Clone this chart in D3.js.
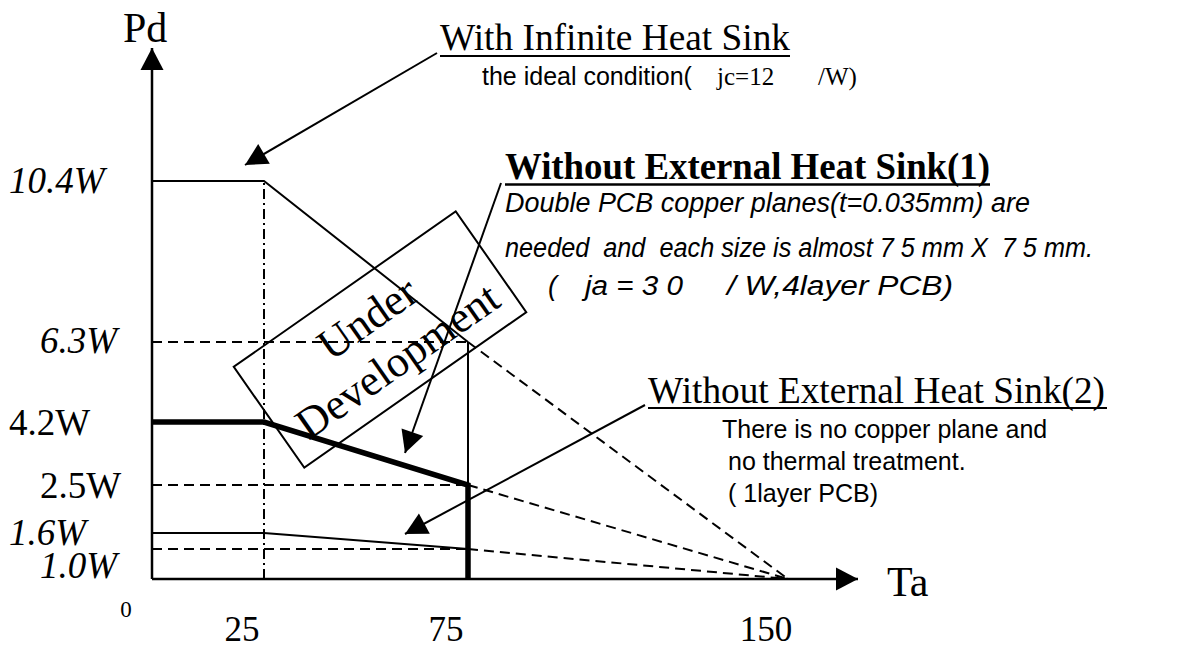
<!DOCTYPE html>
<html>
<head>
<meta charset="utf-8">
<script src="https://cdn.jsdelivr.net/npm/d3@7"></script>
<style>
  html, body { margin: 0; padding: 0; background: #fff; }
  svg { display: block; }
  text { fill: #000; white-space: pre; }
  .serif { font-family: "Liberation Serif", "Times New Roman", serif; }
  .sans  { font-family: "Liberation Sans", Arial, sans-serif; }
</style>
</head>
<body>
<svg id="chart" width="1182" height="649"></svg>
<script>
// Ambient temperature ticks (°C)
const tempTicks = [0, 25, 75, 150];
// Power dissipation levels (W) and their labels
const powerLevels = [1.0, 1.6, 2.5, 4.2, 6.3, 10.4];
const powerLabels = ["1.0W", "1.6W", "2.5W", "4.2W", "6.3W", "10.4W"];
const powerItalic = [true, true, false, false, true, true];

// Derating curves as [Ta, Pd]
const infiniteSink = [[0, 10.4], [25, 10.4], [75, 6.3]];
const noSink1 = [[0, 4.2], [25, 4.2], [75, 2.5], [75, 0]];
const noSink2 = [[0, 1.6], [25, 1.6], [75, 1.0]];
// Each curve extended down to zero power at Tj(max)
const extrapolations = [
  [[75, 6.3], [150, 0]],
  [[75, 2.5], [150, 0]],
  [[75, 1.0], [150, 0]]
];
// Dashed reference levels up to Ta = 75
const guideLevels = [6.3, 2.5, 1.0];

const svg = d3.select("#chart");

// The drawing is schematic, so both scales are piecewise linear
const x = d3.scaleLinear().domain(tempTicks).range([152, 264, 468, 788]);
const y = d3.scaleLinear().domain([0, ...powerLevels]).range([579, 549, 533, 485, 422, 342, 181]);
const line = d3.line().x(d => x(d[0])).y(d => y(d[1]));

// Arrow head marker
const defs = svg.append("defs");
defs.append("marker")
  .attr("id", "head")
  .attr("viewBox", "-24 -13 26 26")
  .attr("refX", 0).attr("refY", 0)
  .attr("markerUnits", "userSpaceOnUse")
  .attr("markerWidth", 26).attr("markerHeight", 26)
  .attr("orient", "auto")
  .append("path").attr("d", "M0,0 L-22,-11.5 L-22,11.5 Z").attr("fill", "#000");

const g = svg.append("g").attr("fill", "none").attr("stroke", "#000");

// Dashed reference levels
guideLevels.forEach(p => {
  g.append("path").attr("d", line([[0, p], [75, p]]))
    .attr("stroke-width", 2).attr("stroke-dasharray", "10,6");
});
// Dash-dot marker at Ta = 25
g.append("path").attr("d", line([[25, 0], [25, 10.4]]))
  .attr("stroke-width", 2).attr("stroke-dasharray", "10,4,2,4");
// Extrapolations to 150
extrapolations.forEach(seg => {
  g.append("path").attr("d", line(seg))
    .attr("stroke-width", 2).attr("stroke-dasharray", "10,6");
});
// Thin vertical at Ta = 75 under the infinite-sink corner
g.append("path").attr("d", line([[75, 6.3], [75, 0]])).attr("stroke-width", 2);

// Curves
g.append("path").attr("d", line(infiniteSink)).attr("stroke-width", 2);
g.append("path").attr("d", line(noSink2)).attr("stroke-width", 2);
g.append("path").attr("d", line(noSink1)).attr("stroke-width", 5.5)
  .attr("stroke-linejoin", "miter");

// Axes
g.append("line").attr("x1", x(0)).attr("y1", y(0)).attr("x2", x(0)).attr("y2", 48)
  .attr("stroke-width", 2.5).attr("marker-end", "url(#head)");
g.append("line").attr("x1", x(0)).attr("y1", y(0)).attr("x2", 858).attr("y2", y(0))
  .attr("stroke-width", 2.5).attr("marker-end", "url(#head)");

svg.append("text").attr("class", "serif").attr("x", 123).attr("y", 42)
  .attr("font-size", 42).text("Pd");
svg.append("text").attr("class", "serif").attr("x", 887).attr("y", 596)
  .attr("font-size", 42).text("Ta");

// Power labels on the left
const labelX = [40, 9, 40, 9, 40, 9];
const labelDy = [29, 12, 13, 13, 11, 12];
powerLevels.forEach((p, i) => {
  svg.append("text").attr("class", "serif")
    .attr("x", labelX[i]).attr("y", y(p) + labelDy[i])
    .attr("font-size", 37)
    .attr("font-style", powerItalic[i] ? "italic" : "normal")
    .text(powerLabels[i]);
});

// Temperature labels below
tempTicks.forEach(t => {
  const zero = t === 0;
  svg.append("text").attr("class", "serif")
    .attr("x", x(t) - (zero ? 26 : 22)).attr("y", zero ? 617 : 641)
    .attr("text-anchor", "middle")
    .attr("font-size", zero ? 23 : 35)
    .text(t);
});

// "Under Development" box
const box = svg.append("g").attr("transform", "translate(380,339.5) rotate(-35)");
box.append("rect").attr("x", -135.5).attr("y", -61.5).attr("width", 271).attr("height", 123)
  .attr("fill", "none").attr("stroke", "#000").attr("stroke-width", 2);
box.append("text").attr("class", "serif").attr("text-anchor", "middle")
  .attr("x", 2).attr("y", -10).attr("font-size", 44).text("Under");
box.append("text").attr("class", "serif").attr("text-anchor", "middle")
  .attr("x", 2).attr("y", 42).attr("font-size", 44).text("Development");

// Call-out arrows
const arrows = [
  [[437, 53], [245, 165]],
  [[501, 183], [405, 453]],
  [[645, 405], [405, 534]]
];
arrows.forEach(a => {
  g.append("line").attr("x1", a[0][0]).attr("y1", a[0][1])
    .attr("x2", a[1][0]).attr("y2", a[1][1])
    .attr("stroke-width", 2).attr("marker-end", "url(#head)");
});

// Annotation: infinite heat sink
svg.append("text").attr("class", "serif").attr("x", 440).attr("y", 50)
  .attr("font-size", 38).attr("textLength", 350).attr("lengthAdjust", "spacingAndGlyphs")
  .text("With Infinite Heat Sink");
g.append("line").attr("x1", 440).attr("x2", 790).attr("y1", 56).attr("y2", 56).attr("stroke-width", 2);
const ideal = svg.append("text").attr("y", 85).attr("font-size", 25);
ideal.append("tspan").attr("class", "sans").attr("x", 482).text("the ideal condition(");
ideal.append("tspan").attr("class", "serif").attr("x", 717).text("jc=12");
ideal.append("tspan").attr("class", "serif").attr("x", 818).text("/W)");

// Annotation: without external heat sink (1)
svg.append("text").attr("class", "serif").attr("x", 505).attr("y", 179)
  .attr("font-size", 37).attr("font-weight", "bold")
  .attr("textLength", 485).attr("lengthAdjust", "spacingAndGlyphs")
  .text("Without External Heat Sink(1)");
g.append("line").attr("x1", 505).attr("x2", 990).attr("y1", 184.5).attr("y2", 184.5).attr("stroke-width", 2.5);
const it = svg.append("g").attr("class", "sans").attr("font-style", "italic").attr("font-size", 27);
it.append("text").attr("x", 505).attr("y", 212)
  .attr("textLength", 525).attr("lengthAdjust", "spacingAndGlyphs")
  .text("Double PCB copper planes(t=0.035mm) are");
it.append("text").attr("x", 505).attr("y", 257)
  .attr("textLength", 588).attr("lengthAdjust", "spacingAndGlyphs")
  .text("needed  and  each size is almost 7 5 mm X  7 5 mm.");
const l3 = it.append("text").attr("y", 295);
l3.append("tspan").attr("x", 548).text("(");
l3.append("tspan").attr("x", 585).attr("textLength", 98).attr("lengthAdjust", "spacingAndGlyphs")
  .text("ja = 3 0");
l3.append("tspan").attr("x", 727).attr("textLength", 226).attr("lengthAdjust", "spacingAndGlyphs")
  .text("/ W,4layer PCB)");

// Annotation: without external heat sink (2)
svg.append("text").attr("class", "serif").attr("x", 648).attr("y", 403)
  .attr("font-size", 37).attr("textLength", 457).attr("lengthAdjust", "spacingAndGlyphs")
  .text("Without External Heat Sink(2)");
g.append("line").attr("x1", 648).attr("x2", 1107).attr("y1", 408).attr("y2", 408).attr("stroke-width", 2);
const s2 = svg.append("g").attr("class", "sans").attr("font-size", 25);
s2.append("text").attr("x", 722).attr("y", 438).text("There is no copper plane and");
s2.append("text").attr("x", 728).attr("y", 470).text("no thermal treatment.");
s2.append("text").attr("x", 728).attr("y", 502).text("( 1layer PCB)");
</script>
</body>
</html>
